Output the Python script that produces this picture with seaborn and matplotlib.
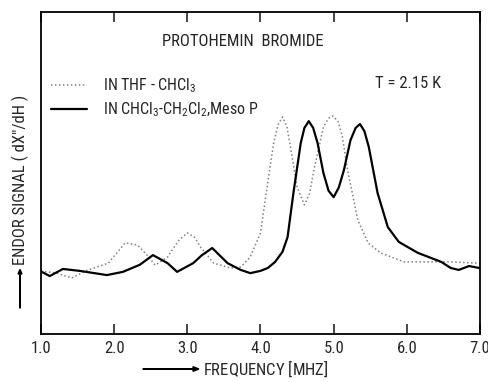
import matplotlib
matplotlib.use("Agg")
import matplotlib.pyplot as plt
from matplotlib import font_manager
import seaborn as sns
import pandas as pd

# dotted trace: protohemin bromide in THF-CHCl3
freq_thf = [1.0, 1.2, 1.42, 1.6, 1.92, 2.15, 2.32, 2.45, 2.56, 2.73, 2.88, 3.0, 3.1,
            3.18, 3.36, 3.59, 3.73, 3.86, 4.0, 4.11, 4.18, 4.24, 4.3, 4.36, 4.41,
            4.5, 4.6, 4.67, 4.73, 4.86, 4.93, 4.99, 5.06, 5.12, 5.19, 5.33, 5.47,
            5.64, 5.96, 6.29, 6.6, 6.96, 7.0]
sig_thf = [19.5, 19.0, 17.4, 19.5, 22.0, 28.3, 27.6, 24.5, 21.4, 23.9, 29.0, 31.4, 30.0,
           27.0, 22.0, 20.5, 20.8, 23.9, 31.4, 48.8, 59.3, 65.0, 67.4, 64.5, 58.0,
           45.7, 40.1, 43.5, 50.9, 64.3, 67.0, 67.7, 66.0, 61.2, 50.9, 35.4, 28.3,
           25.2, 22.4, 22.4, 22.4, 22.0, 22.0]

# solid trace: in CHCl3-CH2Cl2, Meso P
freq_meso = [1.01, 1.12, 1.3, 1.53, 1.9, 2.12, 2.35, 2.53, 2.73, 2.86, 3.08, 3.2,
             3.34, 3.55, 3.73, 3.86, 4.0, 4.1, 4.2, 4.3, 4.37, 4.45, 4.55, 4.6,
             4.66, 4.72, 4.78, 4.86, 4.93, 5.0, 5.07, 5.14, 5.23, 5.3, 5.36, 5.42,
             5.48, 5.6, 5.74, 5.89, 6.15, 6.47, 6.6, 6.71, 6.85, 6.99]
sig_meso = [19.3, 18.0, 20.2, 19.6, 18.3, 19.3, 21.5, 24.5, 22.0, 19.3, 22.0, 24.5,
            26.7, 22.0, 19.9, 18.9, 19.6, 20.5, 22.4, 25.5, 30.1, 43.8, 59.3, 64.0,
            66.1, 64.0, 59.3, 50.0, 44.5, 42.5, 45.5, 50.9, 60.2, 64.0, 65.2, 63.0,
            58.1, 43.8, 33.2, 28.6, 25.2, 22.4, 20.5, 19.9, 21.1, 20.5]

xticks = [1.0, 2.0, 3.0, 4.0, 5.0, 6.0, 7.0]
xtick_labels = ["1.0", "2.0", "3.0", "4.0", "5.0", "6.0", "7.0"]

df_thf = pd.DataFrame({"f": freq_thf, "s": sig_thf})
df_meso = pd.DataFrame({"f": freq_meso, "s": sig_meso})

sns.set_style("ticks")
names = {f.name for f in font_manager.fontManager.ttflist}
narrow = [n for n in ["Roboto Condensed", "Liberation Sans Narrow"] if n in names]
plt.rcParams["font.family"] = narrow + ["DejaVu Sans"]
plt.rcParams["font.stretch"] = "condensed"
plt.rcParams["mathtext.fontset"] = "custom"
plt.rcParams["mathtext.rm"] = (narrow + ["DejaVu Sans"])[0]

fig = plt.figure(figsize=(4.89, 3.82), dpi=100)
ax = fig.add_axes([41 / 489, 48 / 382, 439 / 489, 322 / 382])

sns.lineplot(data=df_thf, x="f", y="s", ax=ax, color="#808080", lw=1.1,
             linestyle=(0, (1, 1.6)), label="IN THF - CHCl$_3$")
sns.lineplot(data=df_meso, x="f", y="s", ax=ax, color="black", lw=1.6,
             label="IN CHCl$_3$-CH$_2$Cl$_2$,Meso P")

ax.set_xlim(1.0, 7.0)
ax.set_ylim(0, 100)
ax.set_xticks(xticks)
ax.set_xticklabels(xtick_labels, fontsize=12)
ax.set_yticks([])
ax.tick_params(axis="x", direction="in", length=7, width=1.2, top=True, pad=5)
for sp in ax.spines.values():
    sp.set_linewidth(1.3)
    sp.set_color("black")
ax.set_xlabel("")
ax.set_ylabel("")

ax.legend(loc="upper left", bbox_to_anchor=(0.0, 0.83), frameon=False,
          fontsize=11.5, handlelength=2.3, handletextpad=1.0,
          labelspacing=0.35, borderaxespad=0.2)

fig.text(243 / 489, 1 - 42 / 382, "PROTOHEMIN  BROMIDE", ha="center", va="center", fontsize=12)
fig.text(408 / 489, 1 - 83 / 382, "T = 2.15 K", ha="center", va="center", fontsize=12)

# axis labels with arrows
fig.text(20 / 489, 1 - 180 / 382, "ENDOR SIGNAL ( dX\u2033/dH )", rotation=90,
         ha="center", va="center", fontsize=12)
fig.patches.append(matplotlib.patches.FancyArrow(
    20 / 489, 1 - 308 / 382, 0, 34 / 382, width=0.0012, head_width=0.008,
    head_length=0.012, color="black", transform=fig.transFigure, figure=fig))
fig.text(203 / 489, 1 - 369 / 382, "FREQUENCY $[$MHZ$]$", ha="left", va="center", fontsize=12)
fig.patches.append(matplotlib.patches.FancyArrow(
    143 / 489, 1 - 369 / 382, 50 / 489, 0, width=0.0015, head_width=0.012,
    head_length=0.012, color="black", transform=fig.transFigure, figure=fig))

fig.savefig("out.png", dpi=100)
